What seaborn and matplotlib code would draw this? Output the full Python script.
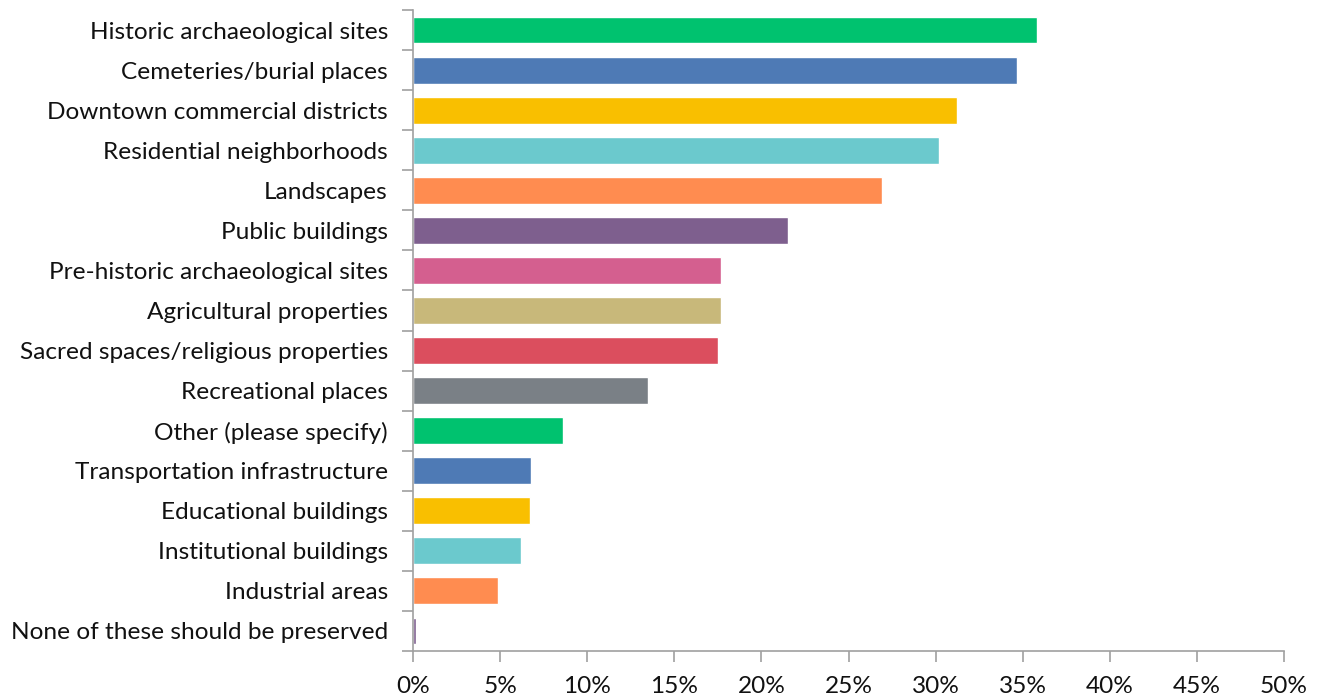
import numpy as np
import pandas as pd
import matplotlib.pyplot as plt
import seaborn as sns
from matplotlib.ticker import FixedLocator, PercentFormatter

# data
categories = [
    'Historic archaeological sites',
    'Cemeteries/burial places',
    'Downtown commercial districts',
    'Residential neighborhoods',
    'Landscapes',
    'Public buildings',
    'Pre-historic archaeological sites',
    'Agricultural properties',
    'Sacred spaces/religious properties',
    'Recreational places',
    'Other (please specify)',
    'Transportation infrastructure',
    'Educational buildings',
    'Institutional buildings',
    'Industrial areas',
    'None of these should be preserved',
]
shares = [35.8, 34.7, 31.2, 30.2, 26.9, 21.5, 17.7, 17.7, 17.5, 13.5,
          8.6, 6.8, 6.7, 6.2, 4.9, 0.2]
base_colors = ['#00C26F', '#4E7AB5', '#F9BF00', '#6BC9CD', '#FF8C50',
               '#7E5F8E', '#D45F8F', '#C8B87A', '#DB4E5E', '#7A8086']
colors = [base_colors[i % len(base_colors)] for i in range(len(categories))]

df = pd.DataFrame({'category': categories, 'share': shares})

sns.set_theme(style='white')
plt.rcParams['font.family'] = ['Lato', 'DejaVu Sans']

fig = plt.figure(figsize=(13.19, 6.98), dpi=100)
ax = fig.add_axes([413 / 1319, 1 - 651 / 698, (1284 - 413) / 1319, (651 - 10) / 698])

sns.barplot(data=df, x='share', y='category', hue='category', palette=colors,
            legend=False, width=0.67, saturation=1, ax=ax)

ax.set_xlim(0, 50)
ax.set_ylim(len(categories) - 0.5, -0.5)
ax.set_xticks(np.arange(0, 51, 5))
ax.xaxis.set_major_formatter(PercentFormatter(decimals=0))
ax.set_xlabel('')
ax.set_ylabel('')

# excel style: ticks between categories
ax.yaxis.set_minor_locator(FixedLocator(np.arange(-0.5, len(categories), 1)))
ax.tick_params(axis='y', which='major', length=0, pad=18, labelsize=17.6, labelcolor='#111111')
ax.tick_params(axis='y', which='minor', length=8, width=1.2, color='#A0A0A0', left=True)
ax.tick_params(axis='x', which='major', length=8, width=1.2, color='#A0A0A0', bottom=True,
               labelsize=17.6, labelcolor='#111111', pad=10)

for side in ['top', 'right']:
    ax.spines[side].set_visible(False)
for side in ['left', 'bottom']:
    ax.spines[side].set_color('#A0A0A0')
    ax.spines[side].set_linewidth(1.2)

plt.savefig('out.png', dpi=100)
